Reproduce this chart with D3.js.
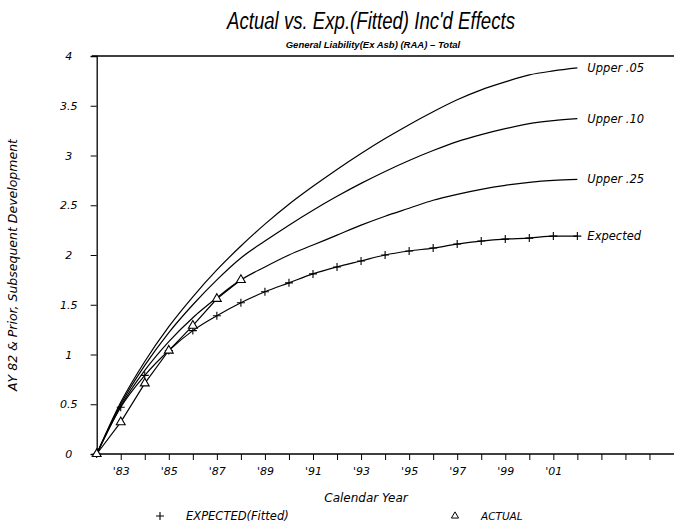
<!DOCTYPE html>
<html>
<head>
<meta charset="utf-8">
<script src="https://cdn.jsdelivr.net/npm/d3@7"></script>
<style>
  html, body { margin: 0; padding: 0; background: #fff; }
  svg { display: block; }
  text { font-family: "DejaVu Sans", "Liberation Sans", sans-serif; font-style: italic; fill: #000; }
</style>
</head>
<body>
<svg id="chart" width="674" height="528"></svg>
<script>
// ---- Data ----
const years = d3.range(1982, 2003); // 1982..2002
const expected = [0, 0.47, 0.79, 1.04, 1.24, 1.39, 1.52, 1.63, 1.72, 1.81, 1.88, 1.94, 2.00, 2.04, 2.07, 2.11, 2.14, 2.16, 2.17, 2.19, 2.19];
const upper25 = [0, 0.48, 0.84, 1.13, 1.37, 1.57, 1.75, 1.88, 2.00, 2.10, 2.20, 2.30, 2.39, 2.47, 2.55, 2.61, 2.66, 2.70, 2.73, 2.75, 2.76];
const upper10 = [0, 0.50, 0.89, 1.22, 1.50, 1.75, 1.97, 2.14, 2.30, 2.45, 2.59, 2.72, 2.84, 2.95, 3.05, 3.14, 3.21, 3.27, 3.32, 3.35, 3.37];
const upper05 = [0, 0.52, 0.93, 1.28, 1.58, 1.85, 2.09, 2.31, 2.51, 2.69, 2.86, 3.02, 3.17, 3.31, 3.44, 3.56, 3.66, 3.74, 3.81, 3.85, 3.88];
const actualYears = [1982, 1983, 1984, 1985, 1986, 1987, 1988];
const actual = [0, 0.32, 0.71, 1.04, 1.29, 1.56, 1.75];
const yTicks = [0, 0.5, 1, 1.5, 2, 2.5, 3, 3.5, 4];
const xTickYears = d3.range(1983, 2006);
const xLabelYears = [1983, 1985, 1987, 1989, 1991, 1993, 1995, 1997, 1999, 2001];
const bandLabels = ["Upper .05", "Upper .10", "Upper .25", "Expected"];

// ---- Layout ----
const svg = d3.select("#chart");
const x = d3.scaleLinear().domain([1982, 2006]).range([96.7, 673.5]);
const y = d3.scaleLinear().domain([0, 4]).range([454, 56]);

// Title & subtitle
svg.append("text").attr("x", 371).attr("y", 29).attr("text-anchor", "middle")
  .attr("textLength", 288).attr("lengthAdjust", "spacingAndGlyphs")
  .style("font-family", "'Liberation Sans', Arial, sans-serif")
  .style("font-size", "23px").style("font-weight", "300")
  .text("Actual vs. Exp.(Fitted) Inc'd Effects");
svg.append("text").attr("x", 373).attr("y", 48).attr("text-anchor", "middle")
  .style("font-family", "'Liberation Sans', Arial, sans-serif")
  .style("font-size", "9.5px").style("font-weight", "bold")
  .text("General Liability(Ex Asb) (RAA) \u2013 Total");

// Top frame line
svg.append("line").attr("x1", 92).attr("x2", 674).attr("y1", y(4)).attr("y2", y(4))
  .attr("stroke", "#000").attr("stroke-width", 1.3);

// Y axis
const yAxis = svg.append("g").attr("transform", `translate(${x(1982)},0)`)
  .call(d3.axisLeft(y).tickValues(yTicks).tickSize(6).tickFormat(d => String(d)));
yAxis.select(".domain").attr("stroke-width", 1.3);
yAxis.selectAll("text").style("font-size", "11px")
  .attr("text-anchor", "middle").attr("x", -28);

// X axis
const xAxis = svg.append("g").attr("transform", `translate(0,${y(0)})`)
  .call(d3.axisBottom(x).tickValues(xTickYears).tickSize(6)
    .tickFormat(d => xLabelYears.includes(d) ? "'" + String(d).slice(2) : ""));
xAxis.select(".domain").attr("d", `M${x(1982)},0H674`).attr("stroke-width", 1.3);
xAxis.selectAll("text").style("font-size", "11px").attr("dy", "1.05em");

// Axis titles
svg.append("text").attr("transform", "translate(17,265) rotate(-90)").attr("text-anchor", "middle")
  .style("font-size", "12.5px").text("AY 82 & Prior, Subsequent Development");
svg.append("text").attr("x", 366).attr("y", 502).attr("text-anchor", "middle")
  .style("font-size", "12px").text("Calendar Year");

// Lines
const line = d3.line().x(d => x(d[0])).y(d => y(d[1])).curve(d3.curveMonotoneX);
const bands = [upper05, upper10, upper25, expected];
bands.forEach((vals, i) => {
  const pts = years.map((yr, j) => [yr, vals[j]]);
  svg.append("path").datum(pts).attr("d", line)
    .attr("fill", "none").attr("stroke", "#000").attr("stroke-width", 1.2);
  svg.append("text").attr("x", x(years[years.length - 1]) + 10).attr("y", y(vals[vals.length - 1]) + 4)
    .style("font-size", "11.5px").text(bandLabels[i]);
});

// Actual line
const actPts = actualYears.map((yr, j) => [yr, actual[j]]);
svg.append("path").datum(actPts).attr("d", d3.line().x(d => x(d[0])).y(d => y(d[1])))
  .attr("fill", "none").attr("stroke", "#000").attr("stroke-width", 1.2);

// Markers: + for expected
svg.append("g").selectAll("path.plus").data(years.map((yr, j) => [yr, expected[j]]))
  .join("path").attr("class", "plus")
  .attr("d", d => `M${x(d[0]) - 4},${y(d[1])}H${x(d[0]) + 4}M${x(d[0])},${y(d[1]) - 4}V${y(d[1]) + 4}`)
  .attr("stroke", "#000").attr("stroke-width", 1.1).attr("fill", "none");

// Triangles for actual
const tri = d3.symbol().type(d3.symbolTriangle).size(34);
svg.append("g").selectAll("path.tri").data(actPts)
  .join("path").attr("class", "tri")
  .attr("transform", d => `translate(${x(d[0])},${y(d[1])})`)
  .attr("d", tri).attr("fill", "#fff").attr("stroke", "#000").attr("stroke-width", 1.1);

// Legend
const legY = 520;
svg.append("path").attr("d", `M156,${legY - 4}H164M160,${legY - 8}V${legY}`).attr("stroke", "#000").attr("stroke-width", 1.1);
svg.append("text").attr("x", 186).attr("y", legY).style("font-size", "11.5px").text("EXPECTED(Fitted)");
svg.append("path").attr("transform", `translate(455,${legY - 4})`).attr("d", d3.symbol().type(d3.symbolTriangle).size(22))
  .attr("fill", "#fff").attr("stroke", "#000").attr("stroke-width", 1);
svg.append("text").attr("x", 481).attr("y", legY).style("font-size", "10.5px").text("ACTUAL");
</script>
</body>
</html>
